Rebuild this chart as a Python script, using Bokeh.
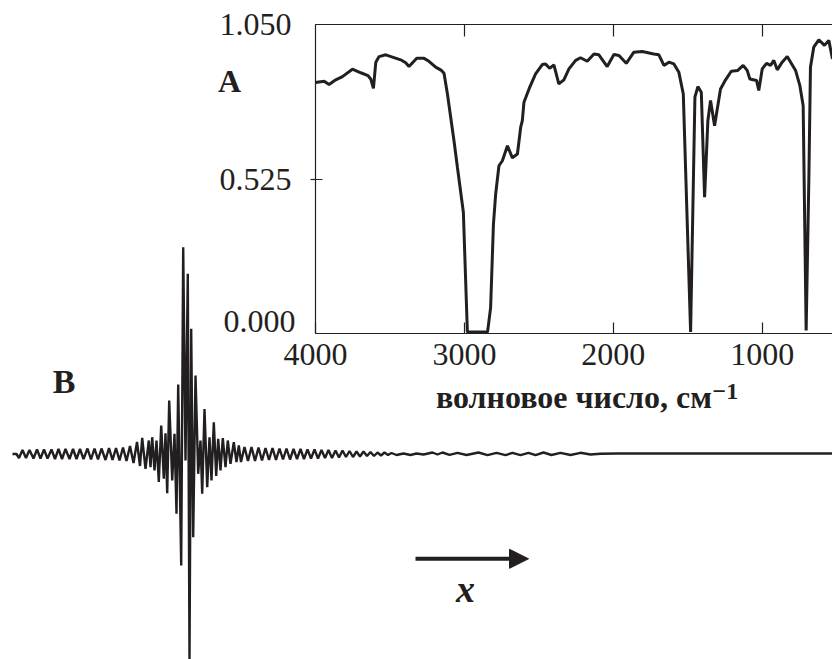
from bokeh.plotting import figure
from bokeh.models import Range1d, LinearAxis, FixedTicker, NumeralTickFormatter, Label, Arrow, NormalHead
from bokeh.embed import file_html
from bokeh.resources import INLINE

INK = "#231f20"
SERIF = "Liberation Serif"

# ---- panel A: IR spectrum -------------------------------------------------
wavenumber = [4000, 3942, 3909, 3864, 3819, 3752, 3696, 3647, 3629, 3611, 3595, 3573,
              3528, 3428, 3394, 3372, 3320, 3271, 3238, 3193, 3154, 3137, 3114, 3070,
              3047, 3007, 2980, 2845, 2842, 2824, 2805, 2790, 2768, 2745, 2711, 2678,
              2644, 2622, 2611, 2600, 2566, 2522, 2477, 2455, 2428, 2399, 2366, 2332,
              2298, 2253, 2220, 2175, 2130, 2097, 2041, 1996, 1962, 1913, 1862, 1806,
              1728, 1694, 1660, 1627, 1593, 1560, 1530, 1481, 1452, 1432, 1409, 1387,
              1365, 1347, 1320, 1280, 1246, 1208, 1164, 1128, 1101, 1083, 1038, 1023,
              1000, 971, 944, 922, 899, 866, 832, 776, 747, 725, 705, 687, 676, 654,
              620, 582, 553, 528]
transmittance = [0.853, 0.857, 0.846, 0.862, 0.873, 0.898, 0.886, 0.876, 0.865, 0.833, 0.922, 0.941,
                 0.947, 0.930, 0.920, 0.907, 0.935, 0.935, 0.925, 0.905, 0.894, 0.884, 0.814, 0.655,
                 0.565, 0.412, 0.005, 0.005, 0.015, 0.088, 0.372, 0.474, 0.570, 0.587, 0.638, 0.597,
                 0.610, 0.701, 0.723, 0.786, 0.831, 0.882, 0.914, 0.916, 0.901, 0.913, 0.848, 0.862,
                 0.899, 0.928, 0.937, 0.925, 0.950, 0.947, 0.907, 0.948, 0.945, 0.918, 0.956, 0.958,
                 0.950, 0.947, 0.911, 0.922, 0.916, 0.888, 0.814, 0.005, 0.803, 0.839, 0.820, 0.463,
                 0.723, 0.792, 0.706, 0.831, 0.862, 0.891, 0.894, 0.911, 0.894, 0.865, 0.860, 0.826,
                 0.899, 0.918, 0.911, 0.928, 0.896, 0.922, 0.941, 0.894, 0.842, 0.774, 0.010, 0.519,
                 0.905, 0.973, 0.998, 0.979, 0.996, 0.933]
wn_ticks = [4000, 3000, 2000, 1000]
t_ticks = [0.525, 1.05]

# ---- panel B: interferogram (optical path difference vs detector signal) ----
opd = [-171, -167, -164.5, -161, -157.5, -154, -150, -146.5, -143, -139.5, -136, -132,
       -128.5, -125, -121.5, -118, -114, -110.5, -107, -103.5, -100, -96, -92.5, -89,
       -85.5, -82, -78, -74.5, -71, -67.5, -64, -60.5, -57, -53.5, -50, -46.5, -43.5,
       -41.3, -38, -34.7, -33, -31.3, -29, -27, -24.7, -22.3, -19.7, -18, -16.3, -14.3,
       -11.3, -9, -7, -5.3, -2.3, -0.3, 2, 4.3, 6, 7.7, 9.7, 12, 14.7, 17, 18.7, 21,
       23.7, 26, 28, 30.3, 32.7, 34.7, 37, 39.3, 42, 44.3, 47, 50.3, 53, 55.3,
       57.5, 61, 64.5, 68, 71.5, 75, 78.5, 82, 85.5, 89, 92.5, 96, 99.5, 103, 106.5,
       110, 113.5, 117, 120.5, 124, 127.5, 131, 134.5, 138, 141.5, 145, 148.5, 152,
       155.5, 159, 162.5, 166, 169.5, 173, 176.5, 180, 183.5, 187, 190.5, 194, 197.5,
       201, 204.5, 208, 213, 220, 227, 233,
       240, 249, 254, 259, 266, 274, 283, 295, 304, 313, 322, 329, 337, 345, 352, 360,
       368, 377, 387, 397, 407, 417, 434, 649]
signal = [0, 0, -0.04, 0.04, -0.04, 0.04, -0.045, 0.045, -0.045, 0.045, -0.045, 0.045,
          -0.05, 0.05, -0.05, 0.05, -0.05, 0.05, -0.05, 0.05, -0.05, 0.055, -0.055, 0.055,
          -0.055, 0.055, -0.06, 0.06, -0.06, 0.06, -0.065, 0.065, -0.07, 0.08, -0.09, 0.12, -0.12,
          0.162, -0.148, 0.135, -0.132, 0.168, -0.165, 0.135, -0.28, 0.285, -0.248, 0.208, -0.392, 0.535,
          -0.265, 0.202, -0.598, 0.695, -1.115, 2.068, -0.065, 1.802, -2.065, 1.252, -0.832, 0.785, -0.198, 0.135, -0.398, 0.45,
          -0.332, 0.168, -0.265, 0.318, -0.22, 0.152, -0.165, 0.16, -0.132, 0.135, -0.098, 0.118, -0.082, 0.085,
          -0.08, 0.07, -0.07, 0.07, -0.07, 0.065, -0.065, 0.06, -0.06, 0.06, -0.06, 0.055, -0.055, 0.055, -0.055,
          0.05, -0.05, 0.05, -0.05, 0.045, -0.045, 0.045, -0.045, 0.04, -0.04, 0.04, -0.04, 0.035,
          -0.035, 0.035, -0.03, 0.03, -0.03, 0.025, -0.025, 0.025, -0.02, 0.02, -0.02, 0.015, -0.015,
          0.015, -0.01, 0.01, -0.01, 0.005, -0.01, 0.005,
          -0.005, 0.015, -0.005, 0.015, -0.008, 0.012, -0.01, 0.015, -0.012, 0.012, -0.012, 0.012, -0.012, 0.012, -0.012, 0.015,
          -0.01, 0.012, -0.01, 0.012, -0.005, 0.003, 0.005, 0.005]

W, H = 832, 659

# interferogram fills the whole canvas; it also carries the free-standing texts
fb = figure(width=W, height=H, x_range=Range1d(-183, 649), y_range=Range1d(-2.055, 4.535),
            title=None, toolbar_location=None, output_backend="svg", x_axis_location=None,
            y_axis_location=None, min_border=0, outline_line_color=None,
            background_fill_color="white", border_fill_color="white")
fb.xgrid.visible = False
fb.ygrid.visible = False
fb.line(opd, signal, line_width=2.4, line_color=INK)
fb.add_layout(Arrow(end=NormalHead(size=19, fill_color=INK, line_color=INK, line_width=1),
                    x_start=232, y_start=-1.048, x_end=345, y_end=-1.048,
                    line_width=4, line_color=INK))


def note(x, y, text, size, style="bold", align="center", baseline="middle"):
    fb.add_layout(Label(x=x, y=y, text=text, text_align=align, text_baseline=baseline,
                        text_font=SERIF, text_font_style=style, text_font_size=size,
                        text_color=INK))


note(-119.5, 0.73, "B", "34px")
note(46, 3.735, "A", "32px")
note(282, -1.345, "x", "38px", style="bold italic")
note(112, 1.325, "0.000", "32px", style="normal", align="right")
note(529, 0.625, "\u22121", "24px", align="left")

# spectrum panel, transparent, laid over the upper right part of the canvas
fa = figure(width=W, height=H, x_range=Range1d(4000, 528), y_range=Range1d(0, 1.05),
            title=None, toolbar_location=None, output_backend="svg",
            min_border_left=315, min_border_right=0, min_border_top=24, min_border_bottom=326,
            background_fill_color=None, border_fill_color=None, outline_line_color=None,
            styles={"position": "absolute", "left": "0px", "top": "0px"})
fa.xgrid.visible = False
fa.ygrid.visible = False
fa.line(wavenumber, transmittance, line_width=3, line_color=INK)

for ax in (fa.xaxis[0], fa.yaxis[0]):
    ax.axis_line_color = INK
    ax.axis_line_width = 1.2
    ax.major_tick_line_color = INK
    ax.major_tick_line_width = 1.2
    ax.minor_tick_line_color = INK
    ax.minor_tick_line_width = 1.2
    ax.minor_tick_in = 0
    ax.minor_tick_out = 0
    ax.major_label_text_font = SERIF
    ax.major_label_text_font_size = "32px"
    ax.major_label_text_color = INK

xa = fa.xaxis[0]
xa.ticker = FixedTicker(ticks=wn_ticks)
xa.major_tick_in = 11
xa.major_tick_out = 0
xa.major_label_standoff = 10
xa.axis_label = "волновое число, см"
xa.axis_label_text_font = SERIF
xa.axis_label_text_font_style = "bold"
xa.axis_label_text_font_size = "32px"
xa.axis_label_text_color = INK
xa.axis_label_standoff = 11

ya = fa.yaxis[0]
ya.ticker = FixedTicker(ticks=t_ticks, minor_ticks=[0.525])
ya.formatter = NumeralTickFormatter(format="0.000")
ya.major_tick_in = 7
ya.major_tick_out = 0
ya.minor_tick_out = 5
ya.major_label_standoff = 19

# top frame edge with inward ticks only
top = LinearAxis(ticker=FixedTicker(ticks=[], minor_ticks=wn_ticks[1:]),
                 axis_line_color=INK, axis_line_width=1.2,
                 minor_tick_line_color=INK, minor_tick_line_width=1.2,
                 minor_tick_in=12, minor_tick_out=0, major_tick_in=0, major_tick_out=0)
fa.add_layout(top, "above")

p = [fb, fa]
open("out.html", "w").write(file_html(p, INLINE))
